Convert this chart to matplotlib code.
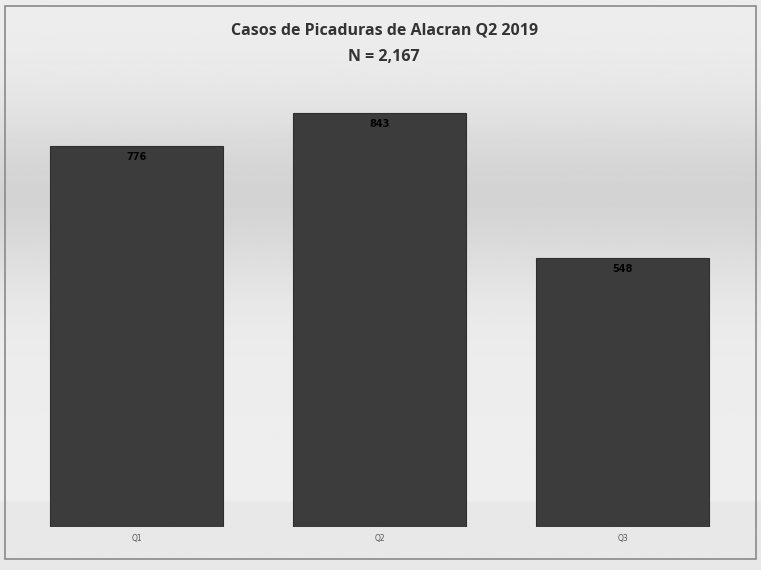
import numpy as np
import matplotlib.pyplot as plt

categories = ["Q1", "Q2", "Q3"]
casos = [776, 843, 548]
titulo = "Casos de Picaduras de Alacran Q2 2019\nN = 2,167"

fig = plt.figure(figsize=(7.61, 5.70), dpi=100, facecolor="#e9e9e9")

# fondo con degradado gris (como la fotocopia)
bg = fig.add_axes([0, 0, 1, 1], zorder=0)
grad = np.linspace(0, 1, 200)
shade = 0.93 - 0.10 * np.exp(-((grad - 0.66) / 0.16) ** 2)
shade[grad < 0.12] = 0.91
bg.imshow(np.tile(shade[:, None], (1, 10)), cmap="gray", vmin=0, vmax=1,
          aspect="auto", extent=[0, 1, 0, 1], origin="lower")
bg.set_axis_off()
fig.patches.append(plt.Rectangle((0.006, 0.02), 0.988, 0.97, transform=fig.transFigure,
                                 fill=False, ec="#8a8a8a", lw=1.2))

ax = fig.add_axes([0.02, 0.075, 0.958, 0.775], zorder=1)
ax.patch.set_alpha(0)
x = np.arange(len(categories))
bars = ax.bar(x, casos, width=0.71, color="#3c3c3c", edgecolor="#2e2e2e", lw=0.8)
for b, v in zip(bars, casos):
    ax.text(b.get_x() + b.get_width() / 2, v - 12, f"{v}", ha="center", va="top",
            fontsize=7, fontweight="bold", color="black")

ax.set_xlim(-0.5, 2.5)
ax.set_ylim(0, 900)
ax.set_xticks(x)
ax.set_xticklabels(categories, fontsize=5.5, color="#555555")
ax.tick_params(axis="x", length=0, pad=5)
ax.set_yticks([])
for s in ax.spines.values():
    s.set_visible(False)

fig.text(0.505, 0.96, titulo, ha="center", va="top", fontsize=11.5,
         fontweight="bold", color="#333333", family="Open Sans", linespacing=1.85)

fig.savefig("out.png", dpi=100, facecolor=fig.get_facecolor())
